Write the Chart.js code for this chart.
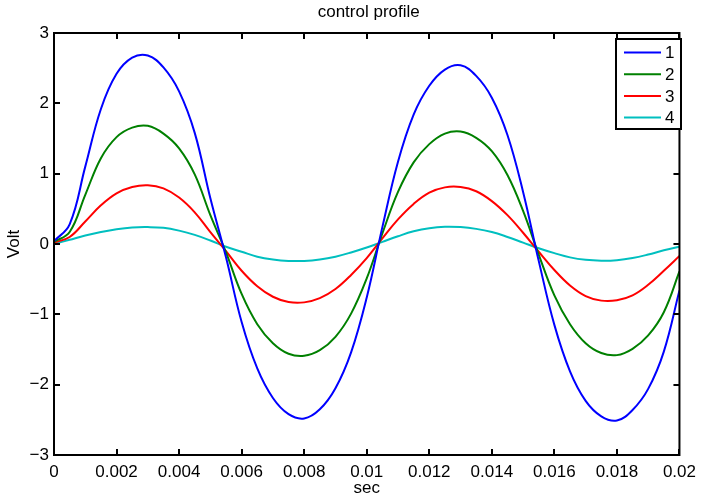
<!DOCTYPE html>
<html>
<head>
<meta charset="utf-8">
<script src="https://cdn.jsdelivr.net/npm/chart.js@4/dist/chart.umd.min.js"></script>
<style>
  html, body { margin: 0; padding: 0; background: #fff; }
  #wrap { width: 703px; height: 499px; }
</style>
</head>
<body>
<div id="wrap"><canvas id="profile-chart" width="703" height="499"></canvas></div>
<script>
// ─── Data ────────────────────────────────────────────────────────
const timeSec = [0, 0.0005, 0.001, 0.0015, 0.002, 0.0025, 0.003, 0.0035, 0.004, 0.0045,
    0.005, 0.0055, 0.006, 0.0065, 0.007, 0.0075, 0.008, 0.0085, 0.009, 0.0095,
    0.01, 0.0105, 0.011, 0.0115, 0.012, 0.0125, 0.013, 0.0135, 0.014, 0.0145,
    0.015, 0.0155, 0.016, 0.0165, 0.017, 0.0175, 0.018, 0.0185, 0.019, 0.0195, 0.02];

const volt1 = [0.04, 0.28, 1.10, 1.92, 2.42, 2.65, 2.68, 2.51, 2.17, 1.58,
    0.65, -0.19, -1.11, -1.77, -2.19, -2.42, -2.48, -2.35, -2.05, -1.54,
    -0.76, 0.24, 1.17, 1.84, 2.25, 2.48, 2.54, 2.39, 2.08, 1.55,
    0.74, -0.24, -1.15, -1.81, -2.23, -2.45, -2.51, -2.36, -2.06, -1.53, -0.66];

const volt2 = [0.03, 0.17, 0.70, 1.22, 1.52, 1.655, 1.68, 1.57, 1.36, 0.99,
    0.41, -0.12, -0.71, -1.14, -1.41, -1.56, -1.59, -1.51, -1.32, -0.99,
    -0.49, 0.15, 0.74, 1.16, 1.42, 1.57, 1.60, 1.51, 1.32, 0.98,
    0.47, -0.15, -0.73, -1.14, -1.41, -1.55, -1.58, -1.49, -1.30, -0.97, -0.39];

const volt3 = [0.02, 0.10, 0.32, 0.55, 0.72, 0.81, 0.835, 0.79, 0.66, 0.45,
    0.17, -0.10, -0.38, -0.60, -0.75, -0.825, -0.83, -0.77, -0.64, -0.44,
    -0.20, 0.08, 0.35, 0.57, 0.73, 0.805, 0.81, 0.75, 0.61, 0.41,
    0.16, -0.11, -0.37, -0.59, -0.74, -0.805, -0.80, -0.73, -0.58, -0.38, -0.17];

const volt4 = [0.0, 0.06, 0.12, 0.17, 0.21, 0.235, 0.24, 0.23, 0.19, 0.13,
    0.05, -0.04, -0.11, -0.18, -0.22, -0.24, -0.24, -0.22, -0.18, -0.12,
    -0.05, 0.03, 0.11, 0.18, 0.225, 0.245, 0.24, 0.215, 0.17, 0.10,
    0.02, -0.06, -0.13, -0.19, -0.225, -0.237, -0.23, -0.20, -0.15, -0.09, -0.04];

const seriesNames = ["1", "2", "3", "4"];
const seriesColors = ["#0000ff", "#008000", "#ff0000", "#00bfbf"];
const xTicks = [0, 0.002, 0.004, 0.006, 0.008, 0.01, 0.012, 0.014, 0.016, 0.018, 0.02];
const yTicks = [-3, -2, -1, 0, 1, 2, 3];

const FONT = "'Liberation Sans', Arial, Helvetica, sans-serif";
const FONT_SIZE = 17;

// ─── MATLAB-ish frame, inward ticks, title, labels, legend ───────
const matlabFrame = {
    id: "matlabFrame",
    afterDatasetsDraw(chart) {
        const { ctx, chartArea: a, scales } = chart;
        const tick = 6;
        ctx.save();
        ctx.strokeStyle = "#000";
        ctx.lineWidth = 2;
        ctx.strokeRect(a.left, a.top, a.right - a.left, a.bottom - a.top);

        ctx.beginPath();
        xTicks.forEach(v => {
            const x = Math.round(scales.x.getPixelForValue(v));
            ctx.moveTo(x, a.bottom); ctx.lineTo(x, a.bottom - tick);
            ctx.moveTo(x, a.top); ctx.lineTo(x, a.top + tick);
        });
        yTicks.forEach(v => {
            const y = Math.round(scales.y.getPixelForValue(v));
            ctx.moveTo(a.left, y); ctx.lineTo(a.left + tick, y);
            ctx.moveTo(a.right, y); ctx.lineTo(a.right - tick, y);
        });
        ctx.stroke();

        // title and axis labels
        ctx.fillStyle = "#000";
        ctx.font = FONT_SIZE + "px " + FONT;
        ctx.textAlign = "center";
        ctx.textBaseline = "middle";
        const cx = (a.left + a.right) / 2;
        ctx.fillText("control profile", cx + 2, 12);
        ctx.fillText("sec", cx, 488);
        ctx.save();
        ctx.translate(14, (a.top + a.bottom) / 2);
        ctx.rotate(-Math.PI / 2);
        ctx.fillText("Volt", 0, 0);
        ctx.restore();

        // legend box
        const lx = 616, ly = 39, lw = 65, lh = 90;
        ctx.fillStyle = "#fff";
        ctx.fillRect(lx, ly, lw, lh);
        ctx.strokeStyle = "#000";
        ctx.lineWidth = 2;
        ctx.strokeRect(lx, ly, lw, lh);
        ctx.textAlign = "left";
        chart.data.datasets.forEach((ds, i) => {
            const y = ly + 13.5 + i * 21.7;
            ctx.beginPath();
            ctx.strokeStyle = ds.borderColor;
            ctx.lineWidth = 2;
            ctx.moveTo(lx + 8, y); ctx.lineTo(lx + 45, y);
            ctx.stroke();
            ctx.fillStyle = "#000";
            ctx.fillText(ds.label, lx + 49, y + 1);
        });
        ctx.restore();
    }
};

const volts = [volt1, volt2, volt3, volt4];

new Chart(document.getElementById("profile-chart"), {
    type: "line",
    data: {
        datasets: volts.map((vals, i) => ({
            label: seriesNames[i],
            data: timeSec.map((t, k) => ({ x: t, y: vals[k] })),
            borderColor: seriesColors[i],
            backgroundColor: seriesColors[i],
            borderWidth: 2,
            pointRadius: 0,
            tension: 0.4,
            fill: false,
        }))
    },
    options: {
        responsive: false,
        animation: false,
        layout: { padding: { top: 33, right: 17, left: 0, bottom: 0 } },
        plugins: {
            legend: { display: false },
            tooltip: { enabled: false },
        },
        scales: {
            x: {
                type: "linear",
                min: 0,
                max: 0.02,
                afterBuildTicks: s => { s.ticks = xTicks.map(v => ({ value: v })); },
                afterFit: s => { s.height = 44; },
                grid: { display: false, drawTicks: false },
                border: { display: false },
                ticks: {
                    color: "#000",
                    padding: 7,
                    maxRotation: 0,
                    font: { family: FONT, size: FONT_SIZE },
                    callback: v => String(Number(v.toFixed(3))),
                },
            },
            y: {
                min: -3,
                max: 3,
                afterBuildTicks: s => { s.ticks = yTicks.map(v => ({ value: v })); },
                afterFit: s => { s.width = 54; },
                grid: { display: false, drawTicks: false },
                border: { display: false },
                ticks: {
                    color: "#000",
                    padding: 5,
                    font: { family: FONT, size: FONT_SIZE },
                    callback: v => (v < 0 ? "\u2212" + Math.abs(v) : String(v)),
                },
            },
        },
    },
    plugins: [matlabFrame],
});
</script>
</body>
</html>
